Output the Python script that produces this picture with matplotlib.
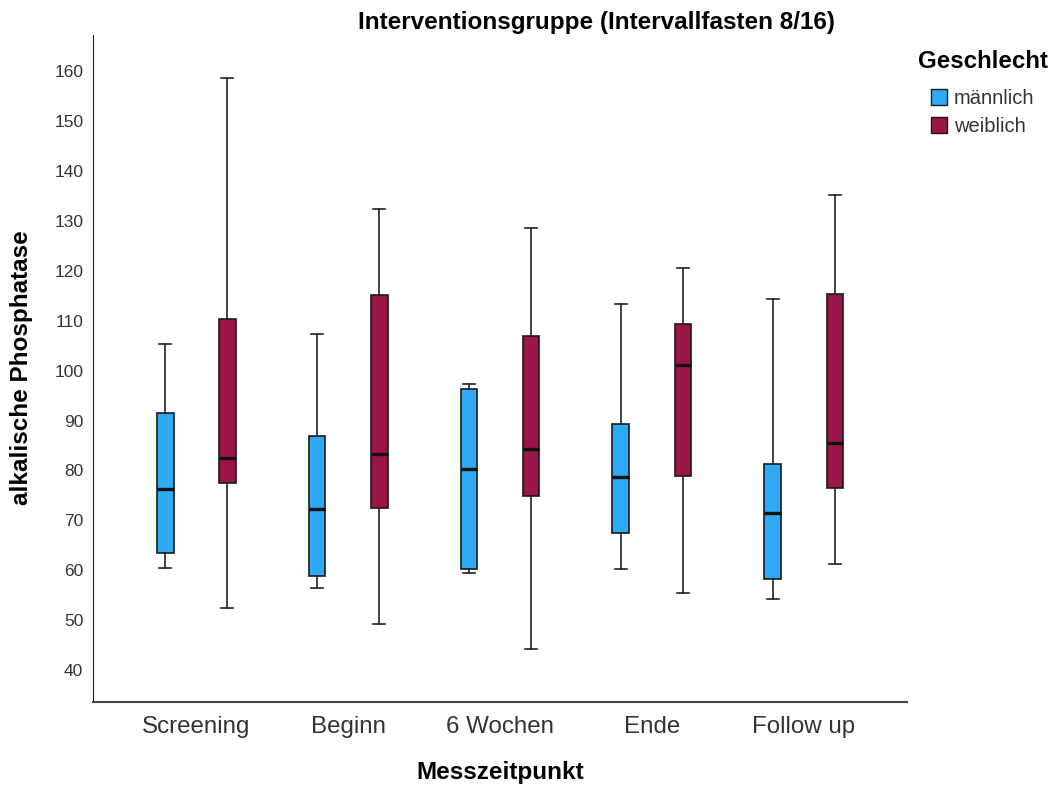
import numpy as np
import matplotlib.pyplot as plt
from matplotlib.patches import Patch

plt.rcParams['font.family'] = ['Liberation Sans', 'DejaVu Sans']

# Messzeitpunkte
zeitpunkte = ['Screening', 'Beginn', '6 Wochen', 'Ende', 'Follow up']

# Boxplot-Kennwerte: unteres Whisker-Ende, Q1, Median, Q3, oberes Whisker-Ende
m_low = [60.5, 56.5, 59.5, 60.3, 54.3]
m_q1 = [63.5, 58.9, 60.3, 67.5, 58.2]
m_med = [76.3, 72.3, 80.3, 78.7, 71.4]
m_q3 = [91.5, 86.9, 96.4, 89.4, 81.4]
m_high = [105.4, 107.3, 97.4, 113.4, 114.3]

w_low = [52.4, 49.3, 44.3, 55.4, 61.3]
w_q1 = [77.4, 72.4, 74.9, 78.9, 76.4]
w_med = [82.5, 83.4, 84.3, 101.2, 85.6]
w_q3 = [110.3, 115.2, 106.9, 109.4, 115.4]
w_high = [158.6, 132.3, 128.5, 120.5, 135.2]

farbe_m = '#2ea9f3'
farbe_w = '#9b1549'


def stats(low, q1, med, q3, high):
    return [dict(whislo=a, q1=b, med=c, q3=d, whishi=e, fliers=[])
            for a, b, c, d, e in zip(low, q1, med, q3, high)]


fig = plt.figure(figsize=(10.51, 7.89), dpi=100)
ax = fig.add_axes([0.0885, 0.110, 0.7745, 0.8456])

x = np.arange(len(zeitpunkte))
offset = 0.205
breite = 0.11

for daten, pos, farbe in [(stats(m_low, m_q1, m_med, m_q3, m_high), x - offset, farbe_m),
                          (stats(w_low, w_q1, w_med, w_q3, w_high), x + offset, farbe_w)]:
    ax.bxp(daten, positions=pos, widths=breite, patch_artist=True, showfliers=False,
           capwidths=0.08,
           boxprops=dict(facecolor=farbe, edgecolor='#1a1a1a', linewidth=1.2),
           medianprops=dict(color='#111111', linewidth=2.4),
           whiskerprops=dict(color='#222222', linewidth=1.2),
           capprops=dict(color='#222222', linewidth=1.2))

ax.set_xlim(-0.68, 4.68)
ax.set_ylim(33.6, 167.2)
ax.set_yticks(np.arange(40, 161, 10))
ax.set_xticks(x)
ax.set_xticklabels(zeitpunkte, fontsize=17.4, color='#333333')
ax.tick_params(axis='y', labelsize=12.5, colors='#333333', length=0, pad=7)
ax.tick_params(axis='x', length=0, pad=10)

for s in ['top', 'right']:
    ax.spines[s].set_visible(False)
ax.spines['left'].set_color('#222222')
ax.spines['bottom'].set_color('#444444')
ax.spines['bottom'].set_linewidth(1.5)

# Achsentitel und Überschrift
fig.text(500 / 1051, 1 - 773 / 789, 'Messzeitpunkt', ha='center', va='center',
         fontsize=17.5, fontweight='bold')
fig.text(22 / 1051, 1 - 368 / 789, 'alkalische Phosphatase', ha='center', va='center',
         rotation=90, fontsize=17.5, fontweight='bold')
fig.text(596 / 1051, 1 - 22 / 789, 'Interventionsgruppe (Intervallfasten 8/16)', ha='center',
         va='center', fontsize=17.5, fontweight='bold')

# Legende
fig.text(918 / 1051, 1 - 62 / 789, 'Geschlecht', ha='left', va='center', fontsize=17.4,
         fontweight='bold')
griffe = [Patch(facecolor=farbe_m, edgecolor='#1a1a1a', label='männlich'),
          Patch(facecolor=farbe_w, edgecolor='#1a1a1a', label='weiblich')]
fig.legend(handles=griffe, loc='upper left', bbox_to_anchor=(931 / 1051, 1 - 89 / 789),
           frameon=False, fontsize=14.5, handlelength=0.8, handleheight=0.8,
           handletextpad=0.35, labelspacing=0.45, borderaxespad=0, borderpad=0,
           labelcolor='#333333')

fig.savefig('out.png', dpi=100)
